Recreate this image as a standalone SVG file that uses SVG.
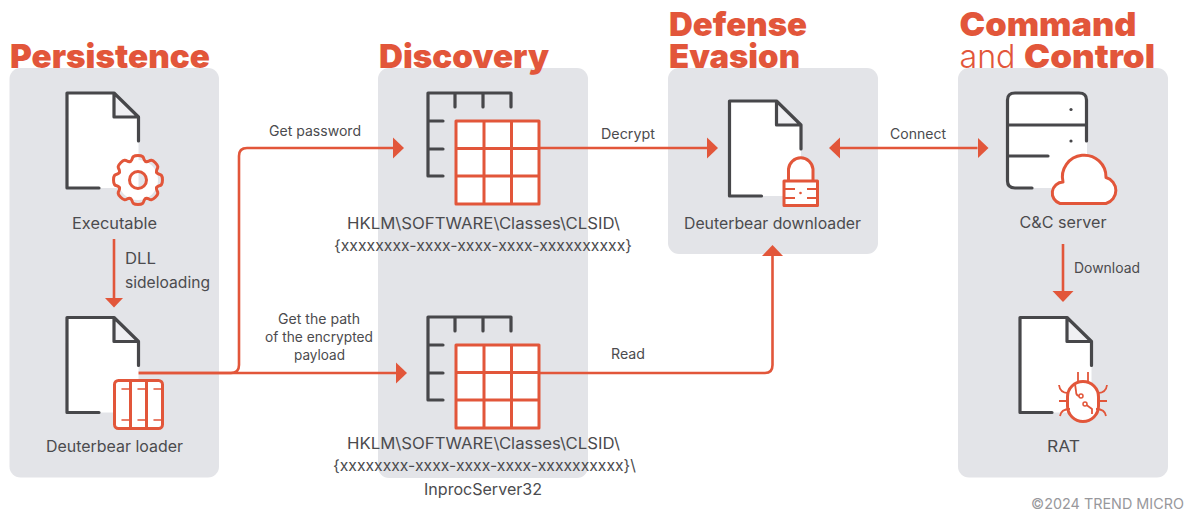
<svg xmlns="http://www.w3.org/2000/svg" xmlns:xlink="http://www.w3.org/1999/xlink" width="1187" height="511" viewBox="0 0 1187 511">
<style>
.panel{fill:#e3e4e8}
.k{fill:none;stroke:#47474a;stroke-width:3.2;stroke-linecap:round;stroke-linejoin:round}
.r{fill:none;stroke:#e2563a;stroke-width:3;stroke-linecap:round;stroke-linejoin:round}
.rw{fill:#fff;stroke:#e2563a;stroke-width:3;stroke-linejoin:round}
.w{fill:#fff}
.c{fill:none;stroke:#e2563a;stroke-width:2.6}
.h{font-family:Inter,"Liberation Sans",sans-serif;font-weight:900;font-size:33px;fill:#e2563a}
.l{font-family:Inter,"Liberation Sans",sans-serif;font-weight:300;font-size:33px;fill:#e2563a}
.b{font-family:Inter,"Liberation Sans",sans-serif;font-size:15.5px;fill:#4b4b4e}
.s{font-family:Inter,"Liberation Sans",sans-serif;font-size:14px;fill:#4b4b4e}
.f{font-family:Inter,"Liberation Sans",sans-serif;font-size:14px;fill:#98989c}
</style>
<defs>
<marker id="ah" markerUnits="userSpaceOnUse" markerWidth="14" markerHeight="24" refX="0" refY="12" viewBox="0 0 14 24" orient="auto-start-reverse"><path d="M0,1.5L11,12L0,22.5Z" fill="#e2563a"/></marker>
<marker id="as" markerUnits="userSpaceOnUse" markerWidth="14" markerHeight="24" refX="0" refY="12" viewBox="0 0 14 24" orient="auto"><path d="M0,3L9.5,12L0,21Z" fill="#e2563a"/></marker>
<g id="doc">
<path class="w" d="M0,0H47V24H71.500V95H0Z"/>
<path d="M47,0L71.500,24H47Z" fill="#f0f0f3"/>
</g>
<path id="docline" class="k" d="M71.500,48V24L47,0H0V95H32M47,0V24H71.500"/>
<path id="tooth" d="M18.500,-7.660C20,-5 22,-6.500 23.500,-4.500C24.800,-2.800 24.800,2.800 23.500,4.500C22,6.500 20,5 18.500,7.660"/>
<g id="table">
<path class="k" d="M428,93H511V107M455,93V107M483,93V107M428,93V176H443M428,121H443M428,149H443"/>
<rect class="rw" x="456" y="121" width="83" height="83"/>
<path class="r" style="stroke-linecap:butt" d="M484,121V204M511.500,121V204M456,148.500H539M456,176H539"/>
</g>
</defs>

<g id="panels">
<rect class="panel" x="9.500" y="68" width="209.500" height="409.500" rx="11"/>
<rect class="panel" x="378" y="68" width="210" height="410" rx="11"/>
<rect class="panel" x="668" y="68" width="210" height="186" rx="11"/>
<rect class="panel" x="958" y="68" width="210" height="409.500" rx="11"/>
</g>

<g id="titles">
<text class="h" x="10" y="68" textLength="200" lengthAdjust="spacingAndGlyphs">Persistence</text>
<text class="h" x="379" y="68" textLength="170" lengthAdjust="spacingAndGlyphs">Discovery</text>
<text class="h" x="669" y="36" textLength="138" lengthAdjust="spacingAndGlyphs">Defense</text>
<text class="h" x="669" y="68" textLength="131" lengthAdjust="spacingAndGlyphs">Evasion</text>
<text class="h" x="959.500" y="36" textLength="177" lengthAdjust="spacingAndGlyphs">Command</text>
<text class="l" x="959.500" y="68" textLength="56" lengthAdjust="spacingAndGlyphs">and</text>
<text class="h" x="1024" y="68" textLength="131" lengthAdjust="spacingAndGlyphs">Control</text>
</g>

<g id="connectors">
<path class="c" style="stroke-linecap:butt" d="M138,373H231Q239,373 239,365V156Q239,148 247,148H393" marker-end="url(#ah)"/>
<path class="c" d="M138,373H396" marker-end="url(#ah)"/>
<path class="c" d="M539,148H707" marker-end="url(#ah)"/>
<path class="c" d="M840,148H977.500" marker-start="url(#ah)" marker-end="url(#ah)"/>
<path class="c" d="M539,373H765Q772.500,373 772.500,365V256" marker-end="url(#ah)"/>
<path class="c" d="M114,239V298" marker-end="url(#as)"/>
<path class="c" d="M1063,244V291" marker-end="url(#ah)"/>
<text class="s" x="269" y="136" textLength="92" lengthAdjust="spacingAndGlyphs">Get password</text>
<text class="s" x="278" y="324" textLength="82" lengthAdjust="spacingAndGlyphs">Get the path</text>
<text class="s" x="265" y="342" textLength="108" lengthAdjust="spacingAndGlyphs">of the encrypted</text>
<text class="s" x="294" y="360" textLength="51" lengthAdjust="spacingAndGlyphs">payload</text>
<text class="s" x="601" y="139" textLength="54" lengthAdjust="spacingAndGlyphs">Decrypt</text>
<text class="s" x="611" y="359" textLength="34" lengthAdjust="spacingAndGlyphs">Read</text>
<text class="s" x="890" y="139" textLength="56" lengthAdjust="spacingAndGlyphs">Connect</text>
<text class="b" x="125" y="264" textLength="31" lengthAdjust="spacingAndGlyphs">DLL</text>
<text class="b" x="125" y="288" textLength="85" lengthAdjust="spacingAndGlyphs">sideloading</text>
<text class="s" x="1074" y="273" textLength="66" lengthAdjust="spacingAndGlyphs">Download</text>
</g>

<g id="executable">
<use xlink:href="#doc" x="67" y="93"/><use xlink:href="#docline" x="67" y="93"/>
<g transform="translate(138,180)">
<circle r="14" fill="none" stroke="#fff" stroke-width="12"/>
<g class="r">
<use xlink:href="#tooth"/><use xlink:href="#tooth" transform="rotate(45)"/><use xlink:href="#tooth" transform="rotate(90)"/><use xlink:href="#tooth" transform="rotate(135)"/><use xlink:href="#tooth" transform="rotate(180)"/><use xlink:href="#tooth" transform="rotate(225)"/><use xlink:href="#tooth" transform="rotate(270)"/><use xlink:href="#tooth" transform="rotate(315)"/>
<circle r="8.500"/>
</g></g>
<text class="b" x="72" y="229" textLength="85" lengthAdjust="spacingAndGlyphs">Executable</text>
</g>

<g id="loader">
<use xlink:href="#doc" x="67" y="317.500"/><use xlink:href="#docline" x="67" y="317.500"/>
<rect class="rw" x="114.500" y="380.500" width="48" height="48" rx="4"/>
<path class="r" d="M130.500,380.500V428.500M146.500,380.500V428.500"/>
<path class="r" style="stroke-width:1.500" d="M122,389H129M138,389H145M154,389H161M122,420H129M138,420H145M154,420H161"/>
<text class="b" x="46" y="452" textLength="137" lengthAdjust="spacingAndGlyphs">Deuterbear loader</text>
</g>

<g id="registry-1">
<use xlink:href="#table"/>
<text class="b" x="347" y="229" textLength="273" lengthAdjust="spacingAndGlyphs">HKLM\SOFTWARE\Classes\CLSID\</text>
<text class="b" x="334" y="251" textLength="298" lengthAdjust="spacingAndGlyphs">{xxxxxxxx-xxxx-xxxx-xxxx-xxxxxxxxxx}</text>
</g>

<g id="registry-2">
<use xlink:href="#table" y="224"/>
<text class="b" x="347" y="449" textLength="273" lengthAdjust="spacingAndGlyphs">HKLM\SOFTWARE\Classes\CLSID\</text>
<text class="b" x="333" y="471" textLength="303" lengthAdjust="spacingAndGlyphs">{xxxxxxxx-xxxx-xxxx-xxxx-xxxxxxxxxx}\</text>
<text class="b" x="424" y="495" textLength="118" lengthAdjust="spacingAndGlyphs">InprocServer32</text>
</g>

<g id="downloader">
<use xlink:href="#doc" x="729.500" y="101"/><use xlink:href="#docline" x="729.500" y="101"/>
<path class="r" d="M788.500,181V169A12.300,12.300 0 0 1 813,169V181" style="fill:#fff"/>
<rect class="rw" x="784" y="181" width="33.500" height="24.500"/>
<path class="r" style="stroke-width:1.800;stroke-linecap:butt" d="M785,189H795M807,189H817M785,198H795M807,198H817"/>
<circle cx="800.500" cy="193" r="1.300" fill="#e2563a"/>
<text class="b" x="684" y="229" textLength="177" lengthAdjust="spacingAndGlyphs">Deuterbear downloader</text>
</g>

<g id="cnc-server">
<path class="w" d="M1015,93H1080Q1087,93 1087,100V188H1015Q1008,188 1008,181V100Q1008,93 1015,93Z"/>
<path class="k" d="M1032,188H1015Q1007.500,188 1007.500,181V100Q1007.500,93 1015,93H1079Q1086.500,93 1086.500,100V141M1007.500,125H1086.500M1007.500,156H1048"/>
<circle cx="1071" cy="109.500" r="1.600" fill="#47474a"/><circle cx="1071" cy="141" r="1.600" fill="#47474a"/>
<path class="rw" d="M1060,203.500H1106A13.500,13.500 0 0 0 1106,177.500A21.800,21.800 0 1 0 1063,182A11,11 0 0 0 1060,203.500Z"/>
<text class="b" x="1019.500" y="228" textLength="87" lengthAdjust="spacingAndGlyphs">C&amp;C server</text>
</g>

<g id="rat">
<use xlink:href="#doc" x="1020" y="317.500"/><use xlink:href="#docline" x="1020" y="317.500"/>
<rect class="rw" x="1067.500" y="381.500" width="31" height="40" rx="15.500"/>
<path class="r" style="stroke-width:1.800;stroke-linecap:butt" d="M1078,372V381M1088,372V381M1059,385Q1060,393 1068,393M1107,385Q1106,393 1098,393M1059,401H1068M1098,401H1107M1060,416Q1061,409 1070,409M1106,416Q1105,409 1096,409M1075,384L1076,391Q1076,396 1079.500,396M1086.500,405L1092,409V414"/>
<circle cx="1081" cy="396" r="2" fill="#fff" stroke="#e2563a" stroke-width="1.500"/>
<circle cx="1085" cy="404" r="2" fill="#fff" stroke="#e2563a" stroke-width="1.500"/>
<text class="b" x="1047" y="452" textLength="33" lengthAdjust="spacingAndGlyphs">RAT</text>
</g>

<text class="f" x="1031" y="509" textLength="153" lengthAdjust="spacingAndGlyphs">©2024 TREND MICRO</text>
</svg>
